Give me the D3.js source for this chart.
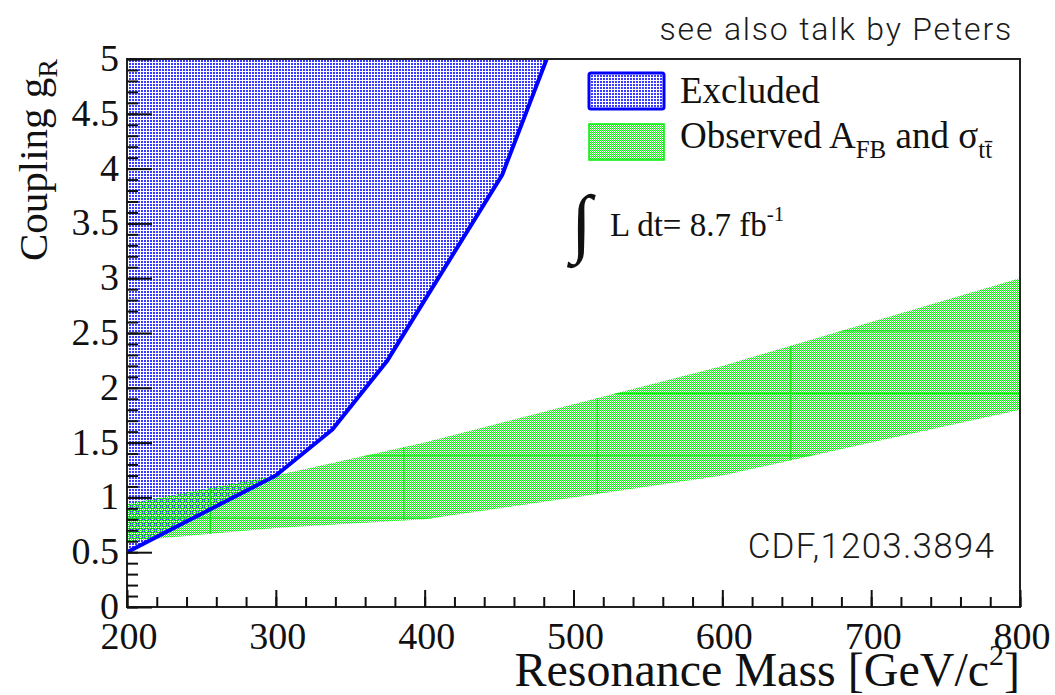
<!DOCTYPE html>
<html>
<head>
<meta charset="utf-8">
<script src="https://cdn.jsdelivr.net/npm/d3@7.9.0/dist/d3.min.js"></script>
<style>
  html, body { margin: 0; padding: 0; background: #fff; }
  svg { display: block; }
  .serif { font-family: "Liberation Serif", "Times New Roman", serif; fill: #111; }
  .sans { font-family: Roboto, "Liberation Sans", sans-serif; font-weight: 300; fill: #1a1a1a; }
</style>
</head>
<body>
<svg id="chart" width="1055" height="695"></svg>
<script>
// excluded region boundary (resonance mass, coupling)
const excludedMass = [200, 300, 338, 375, 400, 452, 482];
const excludedG = [0.5, 1.2, 1.62, 2.25, 2.8, 3.94, 5.0];

// observed A_FB and sigma_tt band
const bandMass = [200, 300, 400, 500, 600, 700, 800];
const bandLow = [0.6, 0.72, 0.8, 1.0, 1.2, 1.5, 1.8];
const bandHigh = [0.94, 1.2, 1.5, 1.85, 2.2, 2.6, 3.0];

// faint seams visible inside the green band
const seamMass = [256, 386, 516, 646];
const seamG = [0.81, 1.38, 1.95, 2.52];

const xMajor = [200, 300, 400, 500, 600, 700, 800];
const xMinor = d3.range(200, 801, 20);
const yMajor = [0, 0.5, 1, 1.5, 2, 2.5, 3, 3.5, 4, 4.5, 5];
const yMinor = d3.range(0, 51).map(d => d / 10);

const svg = d3.select('#chart');
const padL = 127, padR = 1020, padT = 59, padB = 607;

const x = d3.scaleLinear().domain([200, 800]).range([padL, padR]);
const y = d3.scaleLinear().domain([0, 5]).range([padB, padT]);

// fill patterns
const defs = svg.append('defs');
const pb = defs.append('pattern').attr('id', 'blueDots')
  .attr('width', 3).attr('height', 3).attr('patternUnits', 'userSpaceOnUse');
pb.append('rect').attr('width', 3).attr('height', 3).attr('fill', '#ffffff');
pb.append('rect').attr('width', 2).attr('height', 2).attr('fill', '#3a3aff');

const pg = defs.append('pattern').attr('id', 'greenChecker')
  .attr('width', 2).attr('height', 2).attr('patternUnits', 'userSpaceOnUse');
pg.append('rect').attr('x', 0).attr('y', 0).attr('width', 1).attr('height', 1).attr('fill', '#00ff00');
pg.append('rect').attr('x', 1).attr('y', 1).attr('width', 1).attr('height', 1).attr('fill', '#00ff00');

defs.append('clipPath').attr('id', 'plotClip')
  .append('rect').attr('x', padL).attr('y', padT)
  .attr('width', padR - padL).attr('height', padB - padT);

const excluded = excludedMass.map((m, i) => [m, excludedG[i]]);
const band = bandMass.map((m, i) => ({ m, lo: bandLow[i], hi: bandHigh[i] }));

const plot = svg.append('g').attr('clip-path', 'url(#plotClip)');

// excluded area: left of the curve, up to the top of the frame
const exclArea = excluded.concat([[200, 5]]);
plot.append('path')
  .attr('d', d3.line().x(d => x(d[0])).y(d => y(d[1]))(exclArea) + 'Z')
  .attr('fill', 'url(#blueDots)');

// green band
const area = d3.area().x(d => x(d.m)).y0(d => y(d.lo)).y1(d => y(d.hi));
defs.append('clipPath').attr('id', 'bandClip')
  .append('path').attr('d', area(band));

plot.append('path').attr('d', area(band)).attr('fill', 'url(#greenChecker)');

const seams = plot.append('g').attr('clip-path', 'url(#bandClip)')
  .attr('stroke', '#10e010').attr('stroke-width', 1.2);
seams.selectAll('line.v').data(seamMass).join('line').attr('class', 'v')
  .attr('x1', d => x(d)).attr('x2', d => x(d)).attr('y1', padT).attr('y2', padB);
seams.selectAll('line.h').data(seamG).join('line').attr('class', 'h')
  .attr('x1', padL).attr('x2', padR).attr('y1', d => y(d)).attr('y2', d => y(d));

// excluded boundary line
plot.append('path')
  .attr('d', d3.line().x(d => x(d[0])).y(d => y(d[1]))(excluded))
  .attr('fill', 'none').attr('stroke', '#0000ff').attr('stroke-width', 4)
  .attr('stroke-linejoin', 'round');

// frame
svg.append('rect').attr('x', padL).attr('y', padT)
  .attr('width', padR - padL).attr('height', padB - padT)
  .attr('fill', 'none').attr('stroke', '#222').attr('stroke-width', 2);

// axes: ticks drawn inwards like ROOT, labels added separately
function styleAxis(g) {
  g.select('.domain').remove();
  g.selectAll('line').attr('stroke', '#111').attr('stroke-width', 2);
  g.selectAll('text').remove();
}

svg.append('g').attr('transform', `translate(0,${padB})`)
  .call(d3.axisBottom(x).tickValues(xMinor).tickSize(-10)).call(styleAxis);
svg.append('g').attr('transform', `translate(0,${padB})`)
  .call(d3.axisBottom(x).tickValues(xMajor).tickSize(-17)).call(styleAxis);
svg.append('g').attr('transform', `translate(${padL},0)`)
  .call(d3.axisLeft(y).tickValues(yMinor).tickSize(-11)).call(styleAxis);
svg.append('g').attr('transform', `translate(${padL},0)`)
  .call(d3.axisLeft(y).tickValues(yMajor).tickSize(-25)).call(styleAxis);

svg.append('g').selectAll('text').data(xMajor).join('text')
  .attr('class', 'serif').attr('font-size', 38).attr('text-anchor', 'middle')
  .attr('x', d => x(d) + 2).attr('y', padB + 42).text(d => String(d));

svg.append('g').selectAll('text').data(yMajor).join('text')
  .attr('class', 'serif').attr('font-size', 38).attr('text-anchor', 'end')
  .attr('x', padL - 8).attr('y', d => y(d) + 12).text(d => String(d));

// axis titles
const xt = svg.append('text').attr('class', 'serif')
  .attr('x', padR).attr('y', 686).attr('text-anchor', 'end').attr('font-size', 48);
xt.append('tspan').text('Resonance Mass [GeV/c');
xt.append('tspan').attr('font-size', 30).attr('dy', -21).text('2');
xt.append('tspan').attr('dy', 21).text(']');

const yt = svg.append('text').attr('class', 'serif')
  .attr('transform', `translate(47,${padT}) rotate(-90)`)
  .attr('text-anchor', 'end').attr('font-size', 41);
yt.append('tspan').text('Coupling g');
yt.append('tspan').attr('font-size', 28).attr('dy', 10).text('R');

// legend
svg.append('rect').attr('x', 589).attr('y', 73).attr('width', 75).attr('height', 36)
  .attr('fill', 'url(#blueDots)').attr('stroke', '#0000ff').attr('stroke-width', 3).attr('rx', 2);
svg.append('rect').attr('x', 589).attr('y', 124).attr('width', 75).attr('height', 36)
  .attr('fill', 'url(#greenChecker)').attr('stroke', '#00ee00').attr('stroke-width', 1.5);

svg.append('text').attr('class', 'serif').attr('x', 680).attr('y', 103)
  .attr('font-size', 37).text('Excluded');

const obs = svg.append('text').attr('class', 'serif').attr('x', 680).attr('y', 148).attr('font-size', 37);
obs.append('tspan').text('Observed A');
obs.append('tspan').attr('font-size', 25).attr('dy', 10).text('FB');
obs.append('tspan').attr('dy', -10).text(' and σ');
obs.append('tspan').attr('font-size', 25).attr('dy', 10).text('tt̄');

// luminosity
svg.append('text').attr('class', 'serif').attr('x', 571).attr('y', 248)
  .attr('font-size', 76).attr('font-weight', 'bold').text('∫');
const lum = svg.append('text').attr('class', 'serif').attr('x', 610).attr('y', 236).attr('font-size', 33);
lum.append('tspan').text('L dt= 8.7 fb');
lum.append('tspan').attr('font-size', 21).attr('dy', -15).text('-1');

// annotations
svg.append('text').attr('class', 'sans').attr('x', 1013).attr('y', 40)
  .attr('text-anchor', 'end').attr('font-size', 32).attr('letter-spacing', 1.8)
  .text('see also talk by Peters');
svg.append('text').attr('class', 'sans').attr('x', 995).attr('y', 558)
  .attr('text-anchor', 'end').attr('font-size', 35).attr('letter-spacing', 1.2)
  .text('CDF,1203.3894');
</script>
</body>
</html>
